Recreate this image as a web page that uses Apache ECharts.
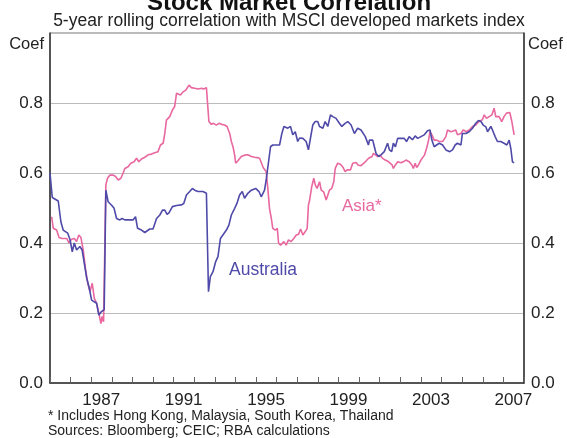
<!DOCTYPE html>
<html>
<head>
<meta charset="utf-8">
<script src="https://cdn.jsdelivr.net/npm/echarts@6/dist/echarts.min.js"></script>
<style>
  html, body { margin: 0; padding: 0; background: #fff; }
  #chart { width: 567px; height: 438px; }
</style>
</head>
<body>
<div id="chart"></div>
<script>
// 5-year rolling correlation (decimal years)
const ausDates = [1985.00, 1985.11, 1985.40, 1985.53, 1985.64, 1985.73, 1985.86, 1985.97, 1986.08, 1986.18,
  1986.29, 1986.45, 1986.56, 1986.66, 1986.78, 1986.89, 1987.02, 1987.15, 1987.26, 1987.37,
  1987.50, 1987.63, 1987.71, 1987.82, 1987.99, 1988.11, 1988.23, 1988.39, 1988.50, 1988.63,
  1988.87, 1989.03, 1989.15, 1989.25, 1989.44, 1989.60, 1989.84, 1990.00, 1990.17, 1990.33,
  1990.46, 1990.57, 1990.68, 1990.78, 1990.94, 1991.00, 1991.14, 1991.38, 1991.49, 1991.62,
  1991.78, 1991.91, 1992.02, 1992.18, 1992.42, 1992.59, 1992.69, 1992.78, 1992.91, 1993.04,
  1993.15, 1993.27, 1993.39, 1993.56, 1993.68, 1993.80, 1993.96, 1994.07, 1994.20, 1994.33,
  1994.44, 1994.60, 1994.77, 1994.98, 1995.14, 1995.25, 1995.41, 1995.49, 1995.57, 1995.70,
  1995.81, 1995.98, 1996.14, 1996.25, 1996.35, 1996.41, 1996.54, 1996.67, 1996.78, 1996.90,
  1997.02, 1997.11, 1997.27, 1997.43, 1997.54, 1997.64, 1997.75, 1997.87, 1997.99, 1998.08,
  1998.24, 1998.35, 1998.48, 1998.61, 1998.72, 1998.88, 1999.04, 1999.16, 1999.32, 1999.45,
  1999.61, 1999.77, 1999.93, 2000.09, 2000.17, 2000.30, 2000.45, 2000.50, 2000.66, 2000.74,
  2000.82, 2000.95, 2001.06, 2001.22, 2001.38, 2001.47, 2001.58, 2001.66, 2001.76, 2001.87,
  2002.03, 2002.19, 2002.30, 2002.43, 2002.59, 2002.72, 2002.84, 2003.00, 2003.16, 2003.32,
  2003.44, 2003.53, 2003.64, 2003.76, 2003.89, 2004.05, 2004.21, 2004.40, 2004.53, 2004.66,
  2004.77, 2004.94, 2005.01, 2005.18, 2005.34, 2005.50, 2005.66, 2005.79, 2005.91, 2006.02,
  2006.15, 2006.23, 2006.31, 2006.39, 2006.47, 2006.60, 2006.71, 2006.87, 2007.03, 2007.17,
  2007.28, 2007.36, 2007.44, 2007.52];
const ausValues = [0.600, 0.530, 0.520, 0.460, 0.437, 0.440, 0.428, 0.410, 0.375, 0.400,
  0.380, 0.390, 0.380, 0.343, 0.300, 0.275, 0.237, 0.232, 0.228, 0.194,
  0.204, 0.210, 0.551, 0.518, 0.508, 0.499, 0.470, 0.466, 0.470, 0.466,
  0.466, 0.466, 0.475, 0.442, 0.437, 0.430, 0.440, 0.440, 0.470, 0.480,
  0.494, 0.494, 0.482, 0.487, 0.504, 0.500, 0.507, 0.509, 0.513, 0.537,
  0.547, 0.556, 0.551, 0.547, 0.547, 0.542, 0.261, 0.304, 0.318, 0.347,
  0.361, 0.413, 0.423, 0.437, 0.451, 0.480, 0.499, 0.513, 0.537, 0.547,
  0.528, 0.542, 0.551, 0.556, 0.547, 0.532, 0.551, 0.580, 0.580, 0.675,
  0.680, 0.680, 0.680, 0.713, 0.733, 0.737, 0.728, 0.733, 0.709, 0.718,
  0.690, 0.700, 0.699, 0.690, 0.666, 0.700, 0.737, 0.747, 0.747, 0.733,
  0.728, 0.747, 0.733, 0.766, 0.761, 0.756, 0.742, 0.733, 0.742, 0.747,
  0.737, 0.713, 0.728, 0.723, 0.722, 0.704, 0.680, 0.694, 0.694, 0.675,
  0.656, 0.647, 0.652, 0.661, 0.685, 0.666, 0.661, 0.685, 0.675, 0.699,
  0.699, 0.699, 0.690, 0.704, 0.695, 0.706, 0.699, 0.704, 0.709, 0.721,
  0.723, 0.694, 0.675, 0.680, 0.685, 0.680, 0.666, 0.661, 0.666, 0.680,
  0.685, 0.680, 0.713, 0.713, 0.718, 0.728, 0.742, 0.750, 0.747, 0.737,
  0.732, 0.718, 0.713, 0.733, 0.723, 0.704, 0.690, 0.690, 0.685, 0.680,
  0.694, 0.670, 0.632, 0.629];

const asiaDates = [1985.08, 1985.16, 1985.32, 1985.44, 1985.57, 1985.64, 1985.81, 1985.92, 1986.05, 1986.18,
  1986.29, 1986.40, 1986.50, 1986.61, 1986.73, 1986.83, 1986.94, 1987.05, 1987.15, 1987.26,
  1987.37, 1987.47, 1987.53, 1987.60, 1987.66, 1987.71, 1987.79, 1987.91, 1988.07, 1988.18,
  1988.31, 1988.44, 1988.55, 1988.63, 1988.79, 1988.92, 1989.08, 1989.20, 1989.31, 1989.44,
  1989.60, 1989.76, 1989.93, 1990.08, 1990.24, 1990.36, 1990.49, 1990.57, 1990.65, 1990.81,
  1990.94, 1991.05, 1991.14, 1991.21, 1991.33, 1991.46, 1991.59, 1991.75, 1991.86, 1992.02,
  1992.18, 1992.35, 1992.46, 1992.59, 1992.67, 1992.71, 1992.83, 1992.94, 1993.07, 1993.20,
  1993.32, 1993.47, 1993.59, 1993.72, 1993.80, 1993.88, 1993.96, 1994.01, 1994.12, 1994.28,
  1994.44, 1994.60, 1994.77, 1994.93, 1995.04, 1995.17, 1995.25, 1995.35, 1995.49, 1995.57,
  1995.65, 1995.74, 1995.81, 1995.93, 1996.03, 1996.09, 1996.19, 1996.35, 1996.46, 1996.57,
  1996.70, 1996.83, 1996.95, 1997.06, 1997.16, 1997.27, 1997.38, 1997.48, 1997.54, 1997.59,
  1997.70, 1997.80, 1997.87, 1997.96, 1998.08, 1998.16, 1998.28, 1998.40, 1998.48, 1998.56,
  1998.67, 1998.77, 1998.84, 1998.96, 1999.09, 1999.20, 1999.32, 1999.42, 1999.58, 1999.69,
  1999.85, 1999.96, 2000.09, 2000.17, 2000.30, 2000.46, 2000.63, 2000.69, 2000.79, 2000.90,
  2001.01, 2001.14, 2001.27, 2001.43, 2001.60, 2001.66, 2001.76, 2001.87, 2002.03, 2002.14,
  2002.27, 2002.43, 2002.56, 2002.63, 2002.72, 2002.79, 2002.88, 2003.00, 2003.08, 2003.17,
  2003.27, 2003.37, 2003.44, 2003.53, 2003.64, 2003.76, 2003.89, 2004.05, 2004.21, 2004.29,
  2004.45, 2004.56, 2004.69, 2004.77, 2004.94, 2005.05, 2005.21, 2005.34, 2005.50, 2005.66,
  2005.82, 2005.98, 2006.07, 2006.18, 2006.31, 2006.44, 2006.55, 2006.63, 2006.79, 2006.92,
  2007.03, 2007.15, 2007.31, 2007.41, 2007.52];
const asiaValues = [0.475, 0.442, 0.437, 0.416, 0.413, 0.416, 0.413, 0.400, 0.411, 0.413,
  0.404, 0.423, 0.416, 0.380, 0.323, 0.285, 0.261, 0.285, 0.242, 0.228,
  0.200, 0.170, 0.190, 0.175, 0.170, 0.566, 0.585, 0.594, 0.594, 0.590,
  0.580, 0.585, 0.600, 0.613, 0.618, 0.628, 0.632, 0.642, 0.632, 0.640,
  0.645, 0.652, 0.654, 0.658, 0.661, 0.680, 0.685, 0.713, 0.751, 0.761,
  0.780, 0.790, 0.828, 0.828, 0.823, 0.832, 0.837, 0.851, 0.844, 0.842,
  0.840, 0.842, 0.840, 0.844, 0.847, 0.747, 0.739, 0.742, 0.737, 0.742,
  0.739, 0.737, 0.733, 0.713, 0.690, 0.675, 0.651, 0.628, 0.635, 0.647,
  0.651, 0.652, 0.647, 0.645, 0.644, 0.642, 0.637, 0.615, 0.604, 0.556,
  0.499, 0.470, 0.442, 0.437, 0.442, 0.400, 0.394, 0.404, 0.394, 0.409,
  0.404, 0.413, 0.423, 0.425, 0.440, 0.423, 0.432, 0.442, 0.509, 0.520,
  0.561, 0.585, 0.566, 0.556, 0.575, 0.551, 0.546, 0.523, 0.528, 0.551,
  0.556, 0.575, 0.613, 0.628, 0.625, 0.618, 0.604, 0.609, 0.609, 0.628,
  0.630, 0.622, 0.621, 0.623, 0.632, 0.642, 0.647, 0.656, 0.652, 0.647,
  0.651, 0.642, 0.637, 0.632, 0.623, 0.613, 0.623, 0.632, 0.629, 0.632,
  0.637, 0.632, 0.623, 0.613, 0.628, 0.616, 0.623, 0.637, 0.632, 0.651,
  0.670, 0.694, 0.718, 0.709, 0.694, 0.694, 0.690, 0.690, 0.704, 0.723,
  0.718, 0.720, 0.723, 0.709, 0.713, 0.723, 0.718, 0.723, 0.733, 0.737,
  0.747, 0.752, 0.766, 0.756, 0.761, 0.766, 0.785, 0.761, 0.761, 0.747,
  0.761, 0.771, 0.773, 0.747, 0.709];

const yearLabels = [1987, 1991, 1995, 1999, 2003, 2007];

const FONT = "'Liberation Sans', Arial, sans-serif";
const AUS_COLOR = '#4f4aa8';
const ASIA_COLOR = '#e8689f';

const zip = (xs, ys) => xs.map((x, i) => [x, ys[i]]);

const chart = echarts.init(document.getElementById('chart'));

const yAxisBase = {
  type: 'value',
  min: 0,
  max: 1,
  interval: 0.2,
  axisLine: { show: true, lineStyle: { color: '#333', width: 1.5 } },
  axisTick: { show: false },
  axisLabel: {
    color: '#222',
    fontSize: 17,
    fontFamily: FONT,
    margin: 7,
    formatter: v => (v > 0.95 ? '' : v.toFixed(1))
  }
};

const option = {
  animation: false,
  backgroundColor: '#fff',
  grid: {
    left: 50,
    right: 43,
    top: 33,
    bottom: 55,
    show: true,
    borderColor: '#777',
    borderWidth: 1
  },
  xAxis: {
    type: 'value',
    min: 1985,
    max: 2008,
    interval: 1,
    axisLine: { show: true, onZero: false, lineStyle: { color: '#333', width: 1.5 } },
    axisTick: { show: true, inside: true, length: 6, lineStyle: { color: '#666', width: 1 } },
    splitLine: { show: false },
    axisLabel: {
      color: '#222',
      fontSize: 17,
      fontFamily: FONT,
      margin: 9,
      showMinLabel: true,
      showMaxLabel: true,
      // year labels sit in the middle of the year, not on the tick
      formatter: v => (yearLabels.includes(Math.round(v)) ? '{y|' + Math.round(v) + '}' : ''),
      rich: {
        y: { fontSize: 17, fontFamily: FONT, color: '#222', padding: [0, 0, 0, 20] }
      }
    }
  },
  yAxis: [
    Object.assign({}, yAxisBase, {
      position: 'left',
      splitLine: { show: true, lineStyle: { color: '#bbb', width: 1 } }
    }),
    Object.assign({}, yAxisBase, {
      position: 'right',
      splitLine: { show: false }
    })
  ],
  series: [
    {
      name: 'Australia',
      type: 'line',
      showSymbol: false,
      data: zip(ausDates, ausValues),
      lineStyle: { color: AUS_COLOR, width: 1.6 },
      itemStyle: { color: AUS_COLOR },
      z: 3
    },
    {
      name: 'Asia*',
      type: 'line',
      showSymbol: false,
      data: zip(asiaDates, asiaValues),
      lineStyle: { color: ASIA_COLOR, width: 1.6 },
      itemStyle: { color: ASIA_COLOR },
      z: 2
    }
  ],
  graphic: [
    { type: 'text', x: 289, y: 3, style: { text: 'Stock Market Correlation', font: `bold 24px ${FONT}`, fill: '#111', align: 'center', verticalAlign: 'middle' } },
    { type: 'text', x: 289, y: 21, style: { text: '5-year rolling correlation with MSCI developed markets index', font: `17.5px ${FONT}`, fill: '#222', align: 'center', verticalAlign: 'middle' } },
    { type: 'text', x: 44, y: 44, style: { text: 'Coef', font: `16.5px ${FONT}`, fill: '#222', align: 'right', verticalAlign: 'middle' } },
    { type: 'text', x: 528, y: 44, style: { text: 'Coef', font: `16.5px ${FONT}`, fill: '#222', align: 'left', verticalAlign: 'middle' } },
    { type: 'text', x: 229, y: 270, style: { text: 'Australia', font: `17.5px ${FONT}`, fill: AUS_COLOR, align: 'left', verticalAlign: 'middle' } },
    { type: 'text', x: 342, y: 206, style: { text: 'Asia*', font: `17px ${FONT}`, fill: ASIA_COLOR, align: 'left', verticalAlign: 'middle' } },
    { type: 'text', x: 48, y: 416, style: { text: '* Includes Hong Kong, Malaysia, South Korea, Thailand', font: `14px ${FONT}`, fill: '#222', align: 'left', verticalAlign: 'middle' } },
    { type: 'text', x: 48, y: 431, style: { text: 'Sources: Bloomberg; CEIC; RBA calculations', font: `14px ${FONT}`, fill: '#222', align: 'left', verticalAlign: 'middle' } }
  ]
};

chart.setOption(option);
</script>
</body>
</html>
